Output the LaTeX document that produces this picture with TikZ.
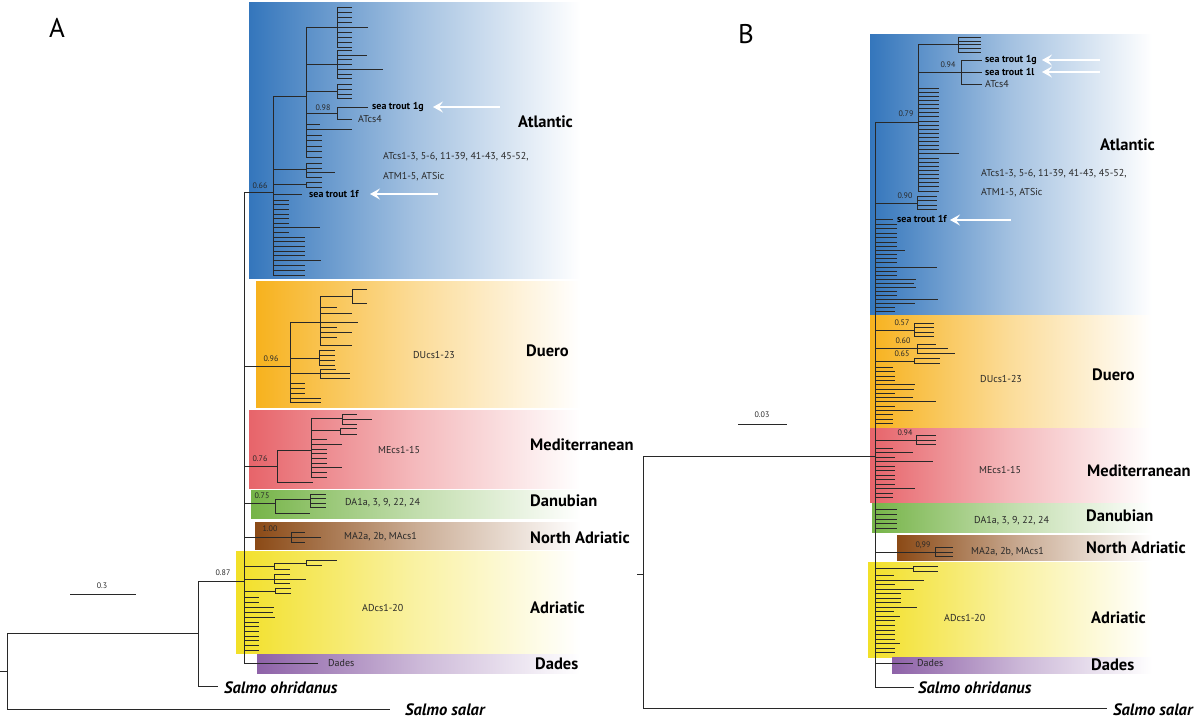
\documentclass[tikz,border=0pt]{standalone}
\usepackage{fontspec}
\setmainfont{PT Sans}
\usetikzlibrary{arrows.meta}

\definecolor{atl}{RGB}{52,118,188}
\definecolor{due}{RGB}{247,178,30}
\definecolor{med}{RGB}{231,100,106}
\definecolor{dan}{RGB}{118,180,72}
\definecolor{nad}{RGB}{139,74,22}
\definecolor{adr}{RGB}{242,224,40}
\definecolor{dad}{RGB}{142,98,168}
\definecolor{br}{RGB}{40,40,40}

\newcommand{\twigs}[2]{\foreach \yy/\xx in {#2} {\draw[tree] (#1,\yy) -- (\xx,\yy);}}

\tikzset{
  tree/.style={draw=br, line width=0.9pt},
  band/.style={left color=#1, right color=white, middle color=#1!45!white},
  clade/.style={font=\fontsize{16.5}{16.5}\selectfont\bfseries, anchor=west, inner sep=0pt},
  acc/.style={font=\fontsize{10}{10}\selectfont, text=br, anchor=west, inner sep=0pt},
  trout/.style={font=\fontsize{10}{10}\selectfont\bfseries, anchor=west, inner sep=0pt},
  prob/.style={font=\fontsize{8}{8}\selectfont, text=br, inner sep=0pt},
  salmo/.style={font=\fontsize{16.5}{16.5}\selectfont\bfseries\itshape, anchor=west, inner sep=0pt},
  panel/.style={font=\fontsize{27}{27}\selectfont, inner sep=0pt},
  wharrow/.style={white, line width=2.2pt, -{Stealth[length=10pt,width=11pt,inset=4pt]}}
}

\begin{document}
\begin{tikzpicture}[x=1pt, y=-1pt]
  \useasboundingbox (0,0) rectangle (1200,721);

  % ---- A ----
  \shade[band=atl] (249,2) rectangle (580,278);
  \shade[band=due] (256,281) rectangle (580,407);
  \shade[band=med] (249,410) rectangle (580,488);
  \shade[band=dan] (251,490) rectangle (580,518);
  \shade[band=nad] (255,522) rectangle (580,549);
  \shade[band=adr] (236,551) rectangle (580,653);
  \shade[band=dad] (257,654) rectangle (580,673);

  \node[panel] (pA) at (57,28) {A};

  \draw[tree] (0,671) -- (7,671);
  \draw[tree] (198,633) -- (7,633) -- (7,709) -- (390,709);
  \draw[tree] (244,581) -- (198,581) -- (198,686) -- (218,686);
  \draw[tree] (244,192) -- (244,663);
  \node[prob] (pA87) at (223,573) {0.87};

  \draw[tree] (244,192) -- (273,192) (273,96) -- (273,275);
  \node[prob] (pA66) at (260,186) {0.66};
  \draw[tree] (273,96) -- (306,96) (306,27) -- (306,157);
  \draw[tree] (306,27) -- (337,27) (337,7) -- (337,47);
  \twigs{337}{7/352,12/352,17/352,22/352,27/368,32/352,37/352,42/352,47/352}
  \draw[tree] (306,64) -- (337,64) (337,50) -- (337,78);
  \twigs{337}{50/352,55/367,59/352,64/352,69/383,74/352,78/352}
  \draw[tree] (306,91) -- (337,91) (337,84) -- (337,98);
  \twigs{337}{84/352,89/352,94/352,98/352}
  \draw[tree] (306,113) -- (337,113) (337,107) -- (337,119);
  \node[prob] (pA98) at (323,108) {0.98};
  \twigs{337}{107/368,119/352}
  \twigs{306}{124/320,129/352,135/322,140/322,146/322,151/322,157/322}
  \draw[tree] (273,169) -- (306,169) (306,163) -- (306,177);
  \twigs{306}{163/322,168/322,172/335,177/322}
  \draw[tree] (273,184) -- (306,184) (306,182) -- (306,187);
  \twigs{306}{182/322,187/322}
  \twigs{273}{194/302,200/289,204/289,209/289,214/289,218/289,223/289,227/320,232/289,237/305,241/305,246/305,251/305,255/305,260/321,265/305,270/305,275/305}

  \draw[tree] (244,366) -- (290,366) (290,322) -- (290,402);
  \node[prob] (pA96) at (271,359) {0.96};
  \draw[tree] (290,322) -- (320,322) (320,296) -- (320,345);
  \draw[tree] (320,296) -- (352,296) (352,289) -- (352,303);
  \twigs{352}{289/367,303/367}
  \twigs{320}{307/337,313/352,322/358,327/337,332/352,337/337,345/352}
  \draw[tree] (290,358) -- (319,358) (319,350) -- (319,365);
  \twigs{319}{350/335,355/335,360/335,365/335}
  \draw[tree] (290,373) -- (320,373) (320,369) -- (320,378);
  \twigs{320}{369/336,373/350,378/350}
  \twigs{290}{383/305,388/305,393/305,398/321,402/321}

  \draw[tree] (244,466) -- (277,466) (277,450) -- (277,482);
  \node[prob] (pA76) at (260,459) {0.76};
  \draw[tree] (277,450) -- (311,450) (311,418) -- (311,477);
  \draw[tree] (311,418) -- (342,418) (342,414) -- (342,424);
  \twigs{342}{414/357,419/372,424/357}
  \draw[tree] (311,430) -- (340,430) (340,428) -- (340,434);
  \twigs{340}{428/357,434/357}
  \twigs{311}{439/327,444/342,449/327,453/327,458/327,463/327,467/342,472/327,477/327}
  \draw[tree] (277,482) -- (313,482);

  \draw[tree] (244,503) -- (275,503) (275,499) -- (275,513);
  \node[prob] (pA75) at (262,496) {0.75};
  \draw[tree] (275,499) -- (310,499) (310,494) -- (310,507);
  \twigs{310}{494/326,498/326,503/326,507/326}
  \draw[tree] (275,513) -- (310,513);

  \draw[tree] (244,537) -- (291,537) (291,532) -- (291,542);
  \node[prob] (pA100) at (270,529) {1.00};
  \twigs{291}{532/305,537/321,542/305}

  \draw[tree] (244,566) -- (274,566) (274,563) -- (274,569);
  \draw[tree] (274,563) -- (306,563) (306,560) -- (306,565);
  \twigs{306}{560/337,565/322}
  \draw[tree] (274,569) -- (290,569);
  \draw[tree] (244,579) -- (274,579) (274,574) -- (274,583);
  \twigs{274}{574/290,579/306,583/290}
  \draw[tree] (244,591) -- (275,591) (275,588) -- (275,593);
  \twigs{275}{588/291,593/291}
  \twigs{244}{597/259,602/259,607/274,612/273,617/275,622/259,626/259,631/259,636/259,640/259,645/259,650/259}
  \draw[tree] (244,663) -- (318,663);

  \node[trout] (stA1g) at (372,107) {sea trout 1g};
  \node[acc] (atA4) at (358,119) {ATcs4};
  \node[acc] (atA1) at (383,157) {ATcs1-3, 5-6, 11-39, 41-43, 45-52,};
  \node[acc] (atA2) at (383,177) {ATM1-5, ATSic};
  \node[trout] (stA1f) at (309,194) {sea trout 1f};
  \node[acc] (duA) at (413,355) {DUcs1-23};
  \node[acc] (meA) at (378,450) {MEcs1-15};
  \node[acc] (daA) at (345,503) {DA1a, 3, 9, 22, 24};
  \node[acc] (maA) at (344,537) {MA2a, 2b, MAcs1};
  \node[acc] (adA) at (362,608) {ADcs1-20};
  \node[acc] (dsA) at (328,663) {Dades};

  \node[clade] (atlA) at (518,122) {Atlantic};
  \node[clade] (dueA) at (526,351) {Duero};
  \node[clade] (medA) at (530,445) {Mediterranean};
  \node[clade] (danA) at (530,501) {Danubian};
  \node[clade] (nadA) at (530,538) {North Adriatic};
  \node[clade] (adrA) at (530,608) {Adriatic};
  \node[clade] (dadA) at (535,664) {Dades};
  \node[salmo] (ohrA) at (224,688) {Salmo ohridanus};
  \node[salmo] (salA) at (405,710) {Salmo salar};

  \draw[wharrow] (500,107) -- (433,107);
  \draw[wharrow] (438,194) -- (370,194);

  \draw[tree] (70,594) -- (136,594);
  \node[prob] (scA) at (102,586) {0.3};

  % ---- B ----
  \shade[band=atl] (870,34) rectangle (1152,314);
  \shade[band=due] (870,315) rectangle (1152,427);
  \shade[band=med] (870,428) rectangle (1152,502);
  \shade[band=dan] (872,503) rectangle (1152,532);
  \shade[band=nad] (897,535) rectangle (1152,560);
  \shade[band=adr] (868,562) rectangle (1152,657);
  \shade[band=dad] (892,657) rectangle (1152,673);

  \node[panel] (pB) at (746,34) {B};

  \draw[tree] (637,574) -- (643,574);
  \draw[tree] (875,456) -- (643,456) -- (643,708) -- (1107,708);
  \draw[tree] (875,122) -- (875,687) -- (914,687);

  \draw[tree] (875,122) -- (918,122) (918,44) -- (918,191);
  \node[prob] (pB79) at (906,114) {0.79};
  \draw[tree] (918,44) -- (958,44) (958,37) -- (958,52);
  \twigs{958}{37/981,41/981,44/981,48/981,52/981}
  \draw[tree] (918,72) -- (961,72) (961,60) -- (961,84);
  \node[prob] (pB94a) at (948,65) {0.94};
  \twigs{961}{60/982,72/982,84/982}
  \foreach \i in {0,...,25} {\draw[tree] (918,{88+4.12*\i}) -- (939,{88+4.12*\i});}
  \draw[tree] (939,153.9) -- (959,153.9);
  \draw[tree] (875,203) -- (917,203) (917,196) -- (917,209);
  \node[prob] (pB90) at (905,196) {0.90};
  \twigs{917}{196/937,200/937,205/937,209/937}
  \twigs{875}{219/893,224/897,228/897,233/897,237/897,242/897,246/897,250/905,254/897,258/897,262/897,267/937,271/897,275/897,279/916,283/914,287/916,291/897,295/897,299/938,303/915,307/895,311/895}

  \draw[tree] (875,330) -- (914,330) (914,323) -- (914,336);
  \node[prob] (pB57) at (902,323) {0.57};
  \twigs{914}{323/934,327/934,332/934,336/934}
  \draw[tree] (875,348) -- (917,348) (917,344) -- (917,353);
  \node[prob] (pB60) at (903,341) {0.60};
  \twigs{917}{344/936,348/948,353/955}
  \draw[tree] (875,361) -- (914,361) (914,358) -- (914,363);
  \node[prob] (pB65) at (902,354) {0.65};
  \twigs{914}{358/940,363/940}
  \twigs{875}{367/893,371/895,376/895,380/895,384/915,389/914,393/895,397/913,401/936,406/895,410/913,414/893,419/893,423/893}

  \draw[tree] (875,440) -- (916,440) (916,435) -- (916,444);
  \node[prob] (pB94b) at (905,433) {0.94};
  \twigs{916}{435/936,440/936,444/936}
  \twigs{875}{448/893,452/913,457/895,461/933,466/895,470/895,475/895,479/895,484/895,488/915,493/893,497/893}

  \twigs{875}{509/897,514/897,519/897,523/897,528/897}

  \draw[tree] (875,552) -- (935,552) (935,547) -- (935,556);
  \node[prob] (pB99) at (923,545) {0,99};
  \twigs{935}{547/953,552/953,556/953}

  \draw[tree] (875,568) -- (913,568) (913,566) -- (913,571);
  \twigs{913}{566/938,571/938}
  \twigs{875}{575/894,580/924,584/895,589/914,593/901,598/901,602/901,607/917,611/894,616/900,620/895,625/895,630/895,634/895,639/895,643/900,648/895,652/895}
  \draw[tree] (875,663) -- (913,663);

  \node[trout] (stB1g) at (985,60) {sea trout 1g};
  \node[trout] (stB1l) at (985,72) {sea trout 1l};
  \node[acc] (atB4) at (985,84) {ATcs4};
  \node[acc] (atB1) at (981,174) {ATcs1-3, 5-6, 11-39, 41-43, 45-52,};
  \node[acc] (atB2) at (981,193) {ATM1-5, ATSic};
  \node[trout] (stB1f) at (897,219) {sea trout 1f};
  \node[acc] (duB) at (980,379) {DUcs1-23};
  \node[acc] (meB) at (979,470) {MEcs1-15};
  \node[acc] (daB) at (974,521) {DA1a, 3, 9, 22, 24};
  \node[acc] (maB) at (971,552) {MA2a, 2b, MAcs1};
  \node[acc] (adB) at (944,618) {ADcs1-20};
  \node[acc] (dsB) at (917,663) {Dades};

  \node[clade] (atlB) at (1100,145) {Atlantic};
  \node[clade] (dueB) at (1092,375) {Duero};
  \node[clade] (medB) at (1087,471) {Mediterranean};
  \node[clade] (danB) at (1086,516) {Danubian};
  \node[clade] (nadB) at (1086,548) {North Adriatic};
  \node[clade] (adrB) at (1091,618) {Adriatic};
  \node[clade] (dadB) at (1091,665) {Dades};
  \node[salmo] (ohrB) at (918,688) {Salmo ohridanus};
  \node[salmo] (salB) at (1113,710) {Salmo salar};

  \draw[wharrow] (1100,60) -- (1042,60);
  \draw[wharrow] (1100,72) -- (1042,72);
  \draw[wharrow] (1011,220) -- (950,220);

  \draw[tree] (738,424) -- (787,424);
  \node[prob] (scB) at (762,415) {0.03};
\end{tikzpicture}
\end{document}
